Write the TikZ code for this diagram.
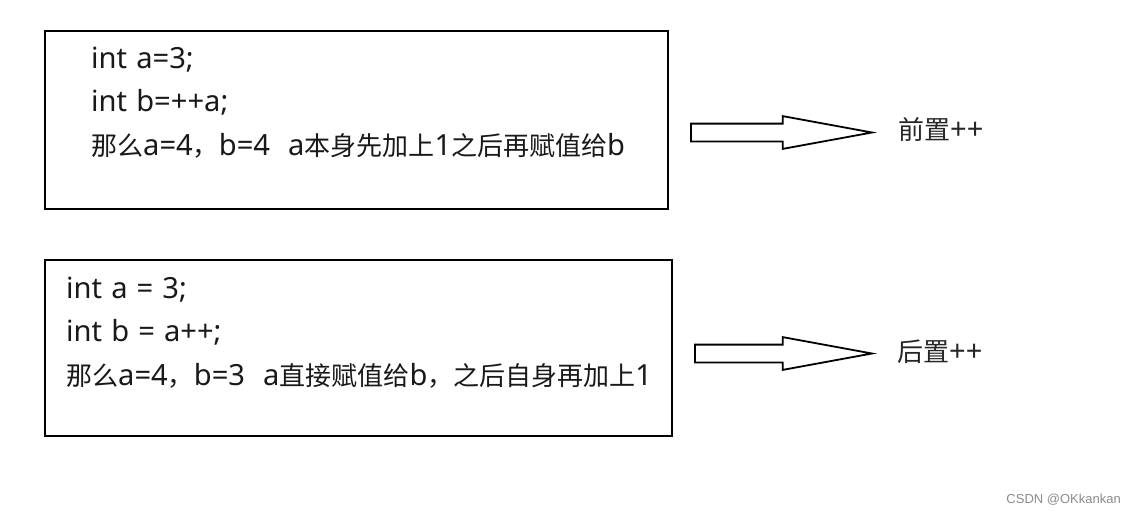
\documentclass[tikz,border=0pt]{standalone}
\usepackage{fontspec}
\setmainfont{Noto Sans}[Scale=1.12, WordSpace=1.2]
\newfontfamily\zh{Noto Sans CJK SC}
\newfontfamily\markfont{Liberation Sans}
\usetikzlibrary{shapes.arrows, positioning}

\begin{document}
\begin{tikzpicture}[
        x=1pt, y=-1pt,
        codebox/.style={rectangle, draw=black, line width=2pt, minimum width=623pt, minimum height=178pt, inner sep=0pt},
        codeline/.style={anchor=base west, inner sep=0pt, font=\fontsize{26}{30}\selectfont, text=black!90},
        fatarrow/.style={single arrow, draw=black, line width=1.8pt, fill=white, inner xsep=0pt, inner ysep=8pt, single arrow head extend=7.5pt, single arrow tip angle=20.8, anchor=tip},
        tag/.style={anchor=west, inner sep=0pt, font=\fontsize{26}{30}\selectfont, text=black!85}
    ]
        \useasboundingbox[fill=white] (0,0) rectangle (1136,515);

        % Boxes
        \node[codebox] (pre) at (356.5,120) {};
        \node[codebox, minimum width=627pt, minimum height=176pt] (post) at (358.5,348) {};

        % Code lines
        \node[codeline] (pre1) at (91,68) {int a=3;};
        \node[codeline] (pre2) at (91,111) {int b=++a;};
        \node[codeline] (pre3) at (91,155) {{\zh 那么}a=4{\zh ，}b=4\ \ a{\zh 本身先加上}1{\zh 之后再赋值给}b};
        \node[codeline] (post1) at (66,298) {int a = 3;};
        \node[codeline] (post2) at (66,341) {int b = a++;};
        \node[codeline] (post3) at (66,385) {{\zh 那么}a=4{\zh ，}b=3\ \ a{\zh 直接赋值给}b{\zh ，之后自身再加上}1};

        % Arrows
        \node[fatarrow, minimum height=181pt] (arr1) at (877,132.5) {};
        \node[fatarrow, minimum height=177pt] (arr2) at (877,353.5) {};

        % Labels
        \node[tag] (pretag) at (898,130) {{\zh 前置}++};
        \node[tag] (posttag) at (897,352) {{\zh 后置}++};

        \node[anchor=east, inner sep=0pt, font=\markfont\fontsize{13}{15}\selectfont, text=black!45] (mark) at (1121,500) {CSDN @OKkankan};
    \end{tikzpicture}
\end{document}
